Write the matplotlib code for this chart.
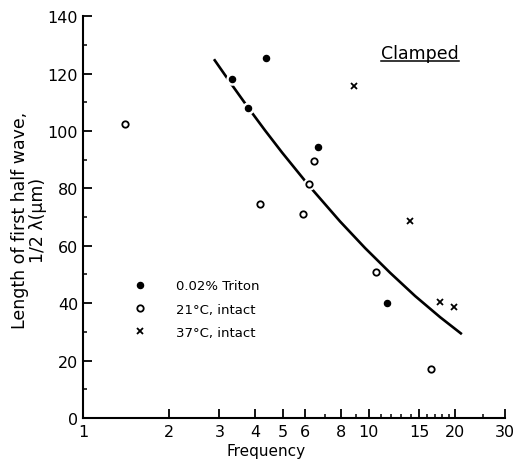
import matplotlib
matplotlib.use("Agg")
import matplotlib.pyplot as plt
from matplotlib.ticker import FixedLocator, FixedFormatter, NullFormatter
from matplotlib.lines import Line2D

plt.rcParams['font.family'] = ['DejaVu Sans']

# Wave length data (frequency, length in um)
triton_freq = [3.32, 3.78, 4.37, 6.66, 11.6]
triton_len = [118, 108, 125.5, 94.5, 40]

intact21_freq = [1.40, 4.16, 5.87, 6.18, 6.44, 10.6, 16.5]
intact21_len = [102.5, 74.5, 71, 81.5, 89.5, 51, 17]

intact37_freq = [8.9, 13.95, 17.8, 19.8]
intact37_len = [115.5, 68.5, 40.5, 38.5]

# Fitted curve read along its course
fit_freq = [2.874, 3.296, 3.780, 4.335, 4.972, 6.18, 7.93, 9.706, 11.87, 14.52, 17.77, 21.16]
fit_len = [125.0, 116.5, 108.2, 100.2, 92.5, 80.9, 68.5, 59.2, 50.6, 42.5, 35.1, 29.2]

x_major = [1, 2, 3, 4, 5, 6, 8, 10, 15, 20, 30]
x_major_labels = ["1", "2", "3", "4", "5", "6", "8", "10", "15", "20", "30"]
x_minor = [7, 9, 11, 12, 13, 14, 16, 17, 18, 19, 25]
y_major = [0, 20, 40, 60, 80, 100, 120, 140]
y_minor = [10, 30, 50, 70, 90, 110, 130]

fig = plt.figure(figsize=(5.15, 4.64), dpi=100)
ax = fig.add_axes([0.161, 0.097, 0.820, 0.866])

ax.set_xscale('log')
ax.set_xlim(1, 30)
ax.set_ylim(0, 140)

ax.plot(fit_freq, fit_len, color='black', lw=1.9, zorder=2, solid_capstyle='butt')

# white halos so the curve breaks around the markers
allx = triton_freq + intact21_freq
ally = triton_len + intact21_len
ax.plot(allx, ally, ls='none', marker='o', ms=8.0, mfc='white', mec='white', zorder=3)

ax.plot(triton_freq, triton_len, ls='none', marker='o', ms=4.4, mfc='black',
        mec='black', zorder=4, label='0.02% Triton')
ax.plot(intact21_freq, intact21_len, ls='none', marker='o', ms=4.6, mfc='white',
        mec='black', mew=1.3, zorder=4, label='21°C, intact')
ax.plot(intact37_freq, intact37_len, ls='none', marker='x', ms=4.0, color='black',
        mew=1.3, zorder=4, label='37°C, intact')

for side in ('top', 'right'):
    ax.spines[side].set_visible(False)
for side in ('left', 'bottom'):
    ax.spines[side].set_linewidth(1.5)

ax.xaxis.set_major_locator(FixedLocator(x_major))
ax.xaxis.set_major_formatter(FixedFormatter(x_major_labels))
ax.xaxis.set_minor_locator(FixedLocator(x_minor))
ax.xaxis.set_minor_formatter(NullFormatter())
ax.yaxis.set_major_locator(FixedLocator(y_major))
ax.yaxis.set_minor_locator(FixedLocator(y_minor))

ax.tick_params(axis='both', which='major', direction='in', length=6.5, width=1.3,
               labelsize=11.5)
ax.tick_params(axis='both', which='minor', direction='in', length=2.8, width=1.1)
ax.tick_params(axis='x', which='major', pad=4)
ax.tick_params(axis='y', which='major', pad=3.5)

ax.set_xlabel('Frequency', fontsize=11)
ax.xaxis.set_label_coords(0.434, -0.063)
ax.set_ylabel('Length of first half wave,\n1/2 λ(μm)', fontsize=12.5,
              linespacing=0.98)
ax.yaxis.set_label_coords(-0.086, 0.495)

leg = ax.legend(loc='upper left', bbox_to_anchor=(0.110, 0.358), frameon=False,
                fontsize=9.5, handlelength=0.8, handletextpad=2.3,
                labelspacing=0.78, borderaxespad=0)

t = ax.text(0.706, 0.8955, 'Clamped', transform=ax.transAxes, fontsize=12.5,
            ha='left', va='baseline')
fig.canvas.draw()
bb = t.get_window_extent().transformed(ax.transAxes.inverted())
ax.add_line(Line2D([bb.x0, bb.x1], [0.888, 0.888],
                   transform=ax.transAxes, color='black', lw=1.1, clip_on=False))

fig.savefig('out.png', dpi=100)
